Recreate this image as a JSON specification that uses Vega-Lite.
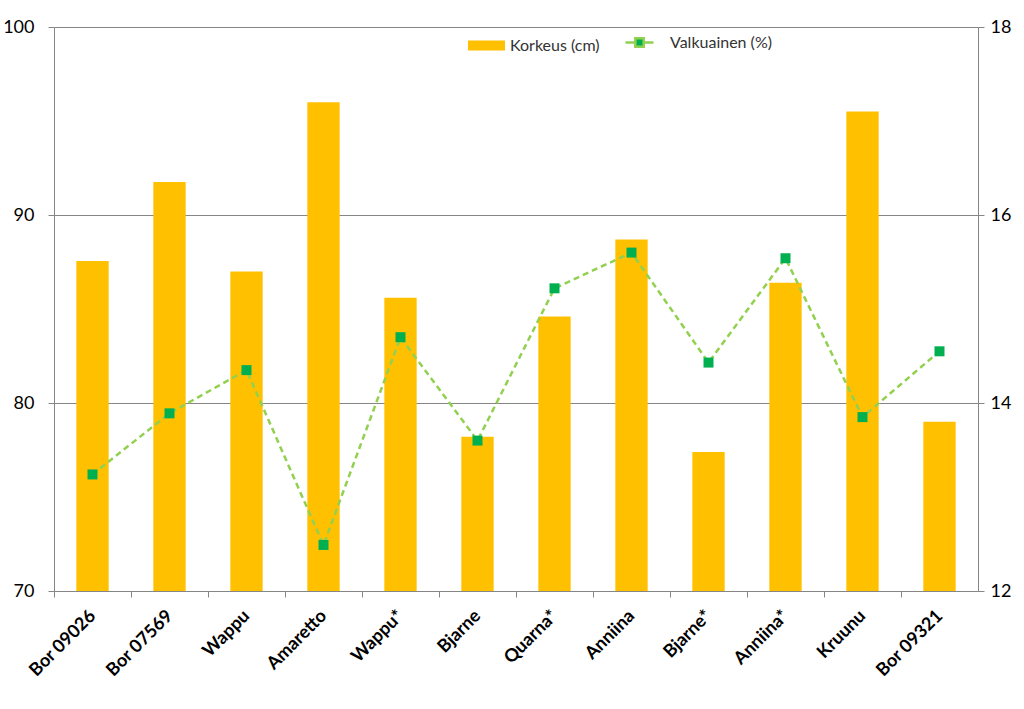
{
  "$schema": "https://vega.github.io/schema/vega-lite/v6.json",
  "width": 924,
  "height": 564,
  "autosize": {"type": "none"},
  "padding": {"left": 54, "top": 27, "right": 46, "bottom": 118},
  "background": "white",
  "config": {
    "view": {"stroke": null},
    "font": "Lato",
    "axis": {"domainColor": "#868686", "tickColor": "#868686", "gridColor": "#868686", "labelColor": "#000000", "labelFont": "Lato", "domainWidth": 1, "gridWidth": 1}
  },
  "data": {
    "values": [
      {"lajike": "Bor 09026", "korkeus": 87.55, "valkuainen": 13.24},
      {"lajike": "Bor 07569", "korkeus": 91.76, "valkuainen": 13.89},
      {"lajike": "Wappu", "korkeus": 87.0, "valkuainen": 14.35},
      {"lajike": "Amaretto", "korkeus": 96.0, "valkuainen": 12.49},
      {"lajike": "Wappu*", "korkeus": 85.6, "valkuainen": 14.7},
      {"lajike": "Bjarne", "korkeus": 78.2, "valkuainen": 13.6},
      {"lajike": "Quarna*", "korkeus": 84.6, "valkuainen": 15.22},
      {"lajike": "Anniina", "korkeus": 88.7, "valkuainen": 15.6},
      {"lajike": "Bjarne*", "korkeus": 77.4, "valkuainen": 14.43},
      {"lajike": "Anniina*", "korkeus": 86.4, "valkuainen": 15.54},
      {"lajike": "Kruunu", "korkeus": 95.5, "valkuainen": 13.85},
      {"lajike": "Bor 09321", "korkeus": 79.0, "valkuainen": 14.55}
    ]
  },
  "encoding": {
    "x": {
      "field": "lajike",
      "type": "nominal",
      "sort": null,
      "scale": {"paddingInner": 0.58, "paddingOuter": 0.29},
      "axis": {
        "title": null,
        "labelAngle": -45,
        "labelAlign": "right",
        "labelBaseline": "middle",
        "labelFontSize": 18,
        "labelFontWeight": "bold",
        "labelPadding": 16,
        "labelOverlap": false,
        "tickSize": 6,
        "tickOffset": -38.5,
        "labelOffset": 38.5
      }
    }
  },
  "layer": [
    {
      "mark": {"type": "bar", "clip": true},
      "encoding": {
        "y": {
          "field": "korkeus",
          "type": "quantitative",
          "scale": {"domain": [70, 100], "zero": false},
          "axis": {"title": null, "orient": "left", "values": [70, 80, 90, 100], "grid": true, "tickSize": 6, "labelPadding": 14, "labelFontSize": 18}
        },
        "y2": {"datum": 70},
        "fill": {
          "datum": "Korkeus (cm)",
          "scale": {"range": ["#FFC000"]},
          "legend": {
            "title": null,
            "orient": "none",
            "legendX": 414,
            "legendY": 0,
            "symbolType": "M-1,-0.27H1V0.27H-1Z",
            "symbolSize": 1369,
            "symbolStrokeWidth": 0,
            "labelFontSize": 16,
            "labelColor": "#333333",
            "labelOffset": 5
          }
        }
      }
    },
    {
      "mark": {"type": "line", "strokeDash": [6, 4], "strokeWidth": 2.5},
      "encoding": {
        "y": {
          "field": "valkuainen",
          "type": "quantitative",
          "scale": {"domain": [12, 18], "zero": false},
          "axis": {"title": null, "orient": "right", "values": [12, 14, 16, 18], "grid": false, "tickSize": 6, "labelPadding": 6, "labelFontSize": 18}
        },
        "stroke": {
          "datum": "Valkuainen (%)",
          "scale": {"range": ["#92D050"]},
          "legend": {
            "title": null,
            "orient": "none",
            "legendX": 570,
            "legendY": 0,
            "symbolType": "M-1,0H-0.35M0.35,0H1M-0.3,-0.3H0.3V0.3H-0.3Z",
            "symbolSize": 784,
            "labelFontSize": 16,
            "labelColor": "#333333",
            "labelOffset": 15,
            "encode": {"symbols": {"update": {"fill": {"value": "#00B050"}, "stroke": {"value": "#92D050"}, "strokeWidth": {"value": 2.5}, "strokeDash": {"value": []}, "opacity": {"value": 1}}}}
          }
        }
      }
    },
    {
      "mark": {"type": "point", "filled": true, "shape": "square", "color": "#00B050", "opacity": 1, "size": 100, "strokeWidth": 0},
      "encoding": {
        "y": {
          "field": "valkuainen",
          "type": "quantitative",
          "scale": {"domain": [12, 18], "zero": false},
          "axis": null
        }
      }
    }
  ],
  "resolve": {"scale": {"y": "independent", "fill": "independent", "stroke": "independent"}}
}
